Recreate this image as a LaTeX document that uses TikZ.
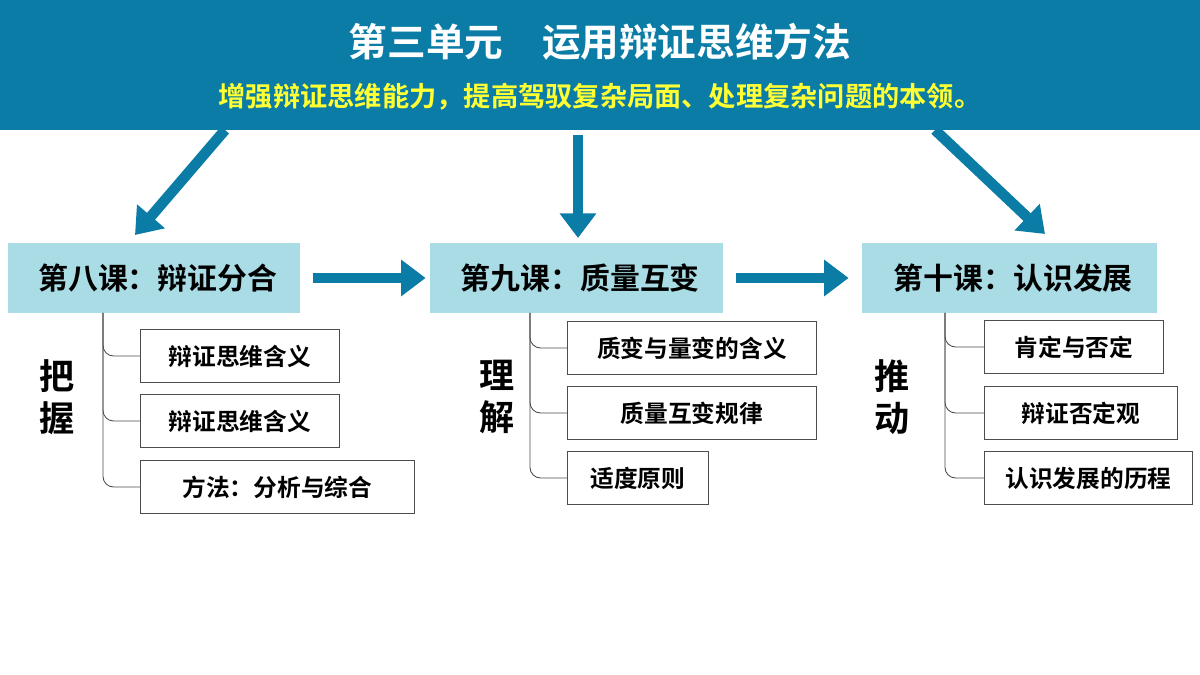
\documentclass[tikz,border=0pt]{standalone}
\usepackage{fontspec}
\newfontfamily\cjk{Noto Sans CJK SC}[BoldFont={Noto Sans CJK SC Bold}]
\usetikzlibrary{arrows.meta, positioning}
\definecolor{banner}{HTML}{0A7CA5}
\definecolor{lesson}{HTML}{A9DCE5}
\definecolor{subtitle}{HTML}{FFFF33}
\tikzset{
  bigarrow/.style={-{Triangle[length=14pt,width=20pt]}, line width=6pt, draw=banner},
  lessonbox/.style={fill=lesson, minimum height=1.4cm, anchor=west, inner sep=0pt,
    font=\cjk\bfseries\fontsize{17}{20}\selectfont},
  itembox/.style={draw=black!70, line width=0.5pt, fill=white, minimum height=1.05cm,
    anchor=west, inner sep=4pt, font=\cjk\bfseries\fontsize{13.5}{16}\selectfont},
  sidechar/.style={font=\cjk\bfseries\fontsize{20}{22}\selectfont, align=center},
  branch/.style={draw=black!70, line width=0.5pt, rounded corners=6pt}
}
\begin{document}
\begin{tikzpicture}[x=0.02cm, y=-0.02cm]
\useasboundingbox (0,0) rectangle (1200,675);
% banner
\fill[banner] (0,0) rectangle (1200,130);
\node[font=\cjk\bfseries\fontsize{22}{26}\selectfont, text=white] (title) at (600,42) {第三单元\quad 运用辩证思维方法};
\node[font=\cjk\bfseries\fontsize{15.5}{18}\selectfont, text=subtitle] (sub) at (600,97) {增强辩证思维能力，提高驾驭复杂局面、处理复杂问题的本领。};
% lessons
\node[lessonbox, minimum width=5.84cm] (l8) at (8,278) {\hspace{4pt}第八课：辩证分合};
\node[lessonbox, minimum width=5.86cm] (l9) at (430,278) {\hspace{4pt}第九课：质量互变};
\node[lessonbox, minimum width=5.9cm] (l10) at (862,278) {\hspace{4pt}第十课：认识发展};
\coordinate (a1) at (225,130); \coordinate (b1) at (135,235);
\coordinate (a2) at (578,135); \coordinate (b2) at (578,238);
\coordinate (a3) at (935,130); \coordinate (b3) at (1045,234);
\draw[bigarrow] (a1) -- (b1);
\draw[bigarrow] (a2) -- (b2);
\draw[bigarrow] (a3) -- (b3);
\draw[bigarrow] (l8.east) ++(12,0) coordinate (h1) (h1) -- ++(113,0) coordinate (h2);
\draw[bigarrow] (l9.east) ++(12,0) coordinate (h3) (h3) -- ++(113,0) coordinate (h4);
% items, group 1
\node[itembox, minimum width=3.98cm, anchor=west] (i11) at (140,356) {辩证思维含义};
\node[itembox, minimum width=3.98cm] (i12) at (140,421) {辩证思维含义};
\node[itembox, minimum width=5.48cm] (i13) at (140,487) {方法：分析与综合};
\coordinate (t1) at (103,313);
\draw[branch] (t1) |- (i11.west);
\draw[branch] (t1) |- (i12.west);
\draw[branch] (t1) |- (i13.west);
\node[sidechar] (s1) at (57,397) {把\\[2pt]握};
% group 2
\node[itembox, minimum width=4.98cm] (i21) at (567,348) {质变与量变的含义};
\node[itembox, minimum width=4.98cm] (i22) at (567,413) {质量互变规律};
\node[itembox, minimum width=2.82cm] (i23) at (567,478) {适度原则};
\coordinate (t2) at (530,313);
\draw[branch] (t2) |- (i21.west);
\draw[branch] (t2) |- (i22.west);
\draw[branch] (t2) |- (i23.west);
\node[sidechar] (s2) at (497,397) {理\\[2pt]解};
% group 3
\node[itembox, minimum width=3.58cm] (i31) at (984,347) {肯定与否定};
\node[itembox, minimum width=3.86cm] (i32) at (984,413) {辩证否定观};
\node[itembox, minimum width=4.16cm, inner sep=1pt] (i33) at (984,478) {认识发展的历程};
\coordinate (t3) at (945,313);
\draw[branch] (t3) |- (i31.west);
\draw[branch] (t3) |- (i32.west);
\draw[branch] (t3) |- (i33.west);
\node[sidechar] (s3) at (892,397) {推\\[2pt]动};
\end{tikzpicture}
\end{document}
